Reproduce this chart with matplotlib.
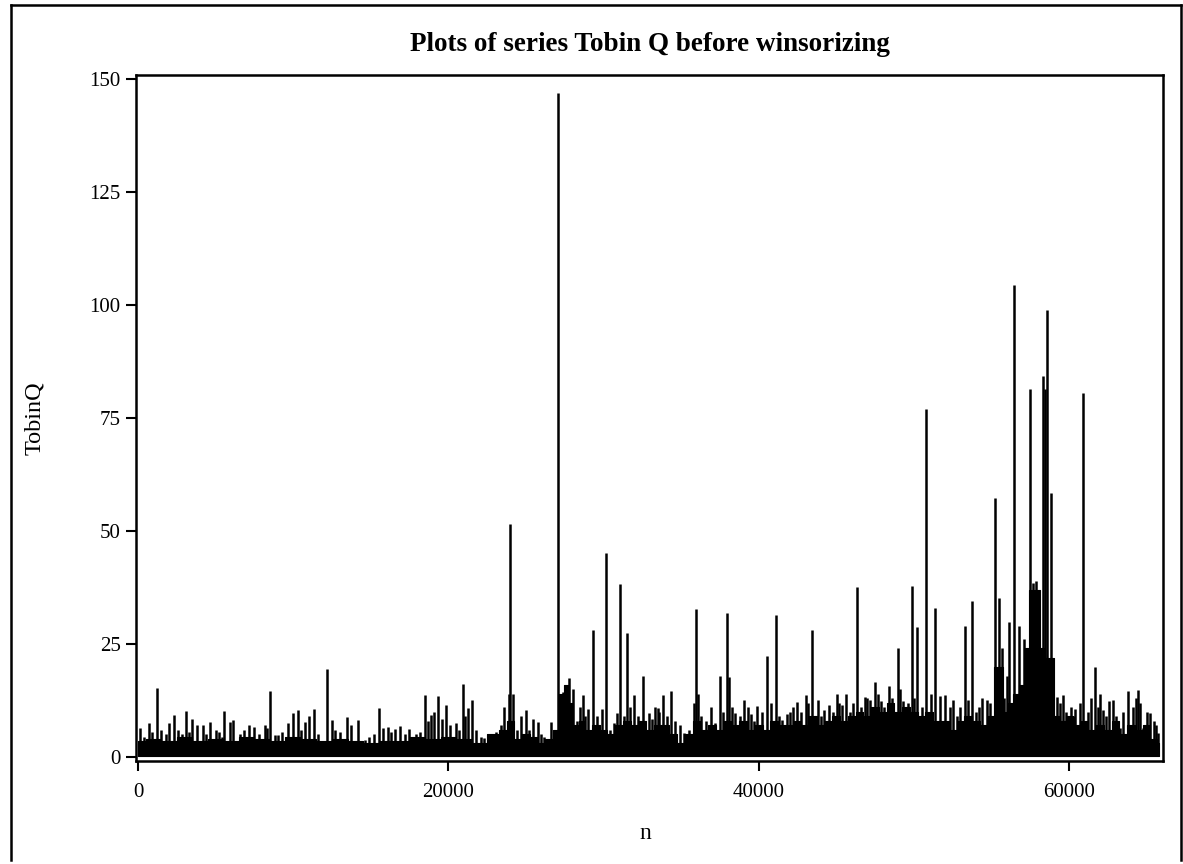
import matplotlib
matplotlib.use("Agg")
import matplotlib.pyplot as plt
from matplotlib.lines import Line2D

# Tobin Q series
# tall isolated spikes (observation number, value)
spike_n = [130, 700, 1220, 2000, 2300, 2800, 3100, 3500, 4180, 4610, 5190, 5570,
           5920, 6150, 6560, 7130, 7440, 8170, 8490, 9000, 9690, 10010, 10330,
           10740, 11360, 12150, 12470, 13440, 14190, 14600, 15500, 16120, 16530,
           16850, 17430, 17930, 18520, 18900, 19360, 19870, 20510, 20940, 21290,
           21520, 22300, 22540, 23100, 23580, 23900, 24000, 24150, 25010, 25440,
           25800, 26180, 26620, 27050, 27400, 27800, 28000, 28300, 28650, 29000,
           29300, 29900, 30160, 30700, 30850, 31080, 31510, 31980, 32560, 32940,
           33480, 33800, 34380, 34900, 35200, 35950, 36100, 36950, 37510, 37940,
           38100, 38500, 39050, 39500, 39910, 40550, 41090, 41500, 41990, 42480,
           43020, 43450, 43800, 44190, 44500, 45050, 45350, 45650, 46340, 46880,
           47150, 47480, 47900, 48380, 48950, 49300, 49880, 50200, 50800, 51380,
           52020, 52500, 53300, 53730, 54400, 54700, 55240, 55510, 55650, 56150,
           56450, 56800, 57300, 57490, 57650, 57900, 58300, 58450, 58600, 58810,
           59200, 59630, 60100, 60400, 60910, 61660, 62200, 62590, 62850, 63300,
           63800, 64450, 64800, 65200, 65450, 65740]
spike_q = [6.4, 7.5, 15.2, 7.5, 9.3, 5.0, 10.2, 8.5, 7.1, 7.8, 5.6, 10.2,
           7.8, 8.1, 5.0, 7.1, 6.6, 7.1, 14.7, 4.9, 7.6, 9.7, 10.4,
           7.8, 10.6, 19.4, 8.1, 8.8, 8.1, 3.8, 10.9, 6.6, 6.2,
           6.8, 6.2, 5.0, 13.7, 9.3, 13.5, 11.5, 7.6, 16.1, 10.8,
           12.5, 4.2, 4.4, 5.5, 11.1, 14.0, 51.6, 14.0, 10.3, 8.5,
           7.8, 4.5, 7.8, 147.0, 14.4, 17.5, 15.0, 8.0, 13.6, 10.7,
           28.2, 10.7, 45.1, 7.5, 9.8, 38.3, 27.5, 13.6, 18.0, 9.8,
           10.9, 13.8, 14.6, 7.0, 5.3, 32.8, 14.0, 11.1, 18.0, 31.9,
           17.6, 9.8, 12.7, 9.4, 11.2, 22.3, 31.5, 8.2, 10.0, 12.2,
           13.8, 28.2, 12.6, 10.4, 11.6, 13.9, 11.6, 13.9, 37.5, 13.3,
           12.6, 16.6, 12.3, 15.8, 24.0, 12.3, 37.9, 28.8, 77.1, 32.9,
           13.6, 12.6, 29.0, 34.6, 13.0, 12.6, 57.4, 35.2, 24.0, 29.9,
           104.4, 29.0, 22.0, 81.5, 38.6, 39.0, 84.4, 81.4, 99.0, 58.5,
           13.3, 13.6, 11.0, 10.6, 80.5, 19.8, 10.3, 12.3, 12.6, 6.5,
           14.5, 14.8, 6.5, 9.8, 8.0, 5.4]

# smaller spikes sitting just above the dense band
minor_n = [400, 900, 1500, 1800, 2600, 3300, 3800, 4400, 5000, 5400, 6800, 7800,
           8300, 8800, 9300, 10500, 11000, 11600, 12700, 13000, 13700, 14900,
           15200, 15800, 16300, 17200, 17700, 18200, 18700, 19100, 19600, 20100,
           20700, 21100, 21800, 22100, 22800, 23400, 24400, 24700, 25200, 26000,
           26400, 27200, 27500, 28500, 28800, 29600, 30400, 31300, 31700, 32200,
           33100, 33300, 33600, 34100, 34600, 35500, 35800, 36300, 36600, 37200,
           37700, 38300, 38800, 39300, 39700, 40200, 40800, 41300, 41800, 42200,
           42700, 43200, 44000, 44800, 45200, 45900, 46100, 46600, 47000, 47700,
           48100, 48600, 49100, 49600, 50000, 50500, 51100, 51700, 52300, 52800,
           53000, 53500, 54000, 54200, 54900, 55800, 56000, 56600, 57100, 59400,
           59800, 60300, 60700, 61200, 61400, 61900, 62000, 62400, 63000, 63500,
           64100, 64300, 64600, 65000, 65600]
minor_q = [4.5, 5.5, 6.0, 5.0, 6.0, 5.5, 7.0, 5.0, 6.0, 4.5, 6.0, 5.0,
           6.5, 4.8, 5.5, 6.0, 9.0, 5.0, 6.0, 5.5, 7.0, 4.5,
           5.0, 6.5, 5.5, 5.0, 4.5, 5.5, 8.0, 10.0, 8.5, 7.0,
           6.0, 9.0, 6.0, 4.5, 5.0, 7.0, 6.0, 9.0, 6.0, 5.0,
           4.0, 10.0, 15.0, 11.0, 9.0, 9.0, 6.0, 9.0, 11.0, 9.0,
           8.5, 11.0, 10.0, 9.0, 8.0, 6.0, 12.0, 9.0, 8.0, 7.5,
           10.0, 11.0, 9.0, 11.0, 8.0, 10.0, 12.0, 9.0, 9.5, 11.0,
           10.0, 12.0, 9.0, 10.0, 12.0, 10.0, 12.0, 11.0, 13.0, 14.0,
           11.0, 13.0, 15.0, 12.0, 13.0, 11.0, 14.0, 13.5, 11.0, 9.0,
           11.0, 12.5, 10.0, 11.0, 12.0, 13.0, 18.0, 14.0, 26.0, 12.0,
           10.0, 9.0, 12.0, 10.0, 13.0, 11.0, 14.0, 9.0, 9.0, 10.0,
           11.0, 13.0, 12.0, 10.0, 7.0]

# upper edge of the dense black band of ordinary observations
band_n = [0, 1000, 2000, 3000, 4000, 5000, 6000, 7000, 8000, 9000, 10000, 11000,
          12000, 13000, 14000, 15000, 16000, 17000, 18000, 19000, 20000, 21000,
          22000, 23000, 23500, 24000, 24500, 25000, 25500, 26000, 26500, 27000,
          27300, 27600, 27900, 28200, 28600, 29000, 29500, 30000, 30500, 31000,
          31500, 32000, 32500, 33000, 33500, 34000, 34500, 35000, 35500, 36000,
          36500, 37000, 37500, 38000, 38500, 39000, 39500, 40000, 40500, 41000,
          41500, 42000, 42500, 43000, 43500, 44000, 44500, 45000, 45500, 46000,
          46500, 47000, 47500, 48000, 48500, 49000, 49500, 50000, 50500, 51000,
          51500, 52000, 52500, 53000, 53500, 54000, 54500, 55000, 55300, 55600,
          55900, 56200, 56600, 57000, 57300, 57600, 58000, 58300, 58600, 58900,
          59200, 59600, 60000, 60500, 61000, 61500, 62000, 62500, 63000, 63500,
          64000, 64500, 65000, 65500, 65800]
band_q = [3.5, 4.0, 3.5, 4.5, 3.5, 4.0, 3.5, 4.5, 4.0, 3.5, 4.5, 4.0,
          3.5, 4.0, 3.5, 3.0, 3.5, 3.5, 4.5, 4.0, 4.5, 4.0,
          3.0, 5.0, 6.0, 8.0, 4.0, 5.0, 4.5, 3.0, 4.0, 6.0,
          14.0, 16.0, 12.0, 7.0, 8.0, 6.0, 7.0, 6.0, 5.0, 7.0,
          8.0, 7.0, 8.0, 6.0, 7.0, 7.0, 5.0, 3.0, 5.0, 8.0,
          6.0, 7.0, 6.0, 8.0, 7.0, 8.0, 6.0, 7.0, 6.0, 8.0,
          7.0, 7.0, 8.0, 7.0, 9.0, 7.0, 8.0, 9.0, 8.0, 9.0,
          10.0, 9.0, 11.0, 10.0, 12.0, 10.0, 11.0, 10.0, 9.0, 10.0,
          8.0, 8.0, 6.0, 8.0, 9.0, 8.0, 7.0, 9.0, 20.0, 20.0,
          10.0, 12.0, 14.0, 16.0, 24.0, 37.0, 37.0, 24.0, 22.0, 22.0,
          9.0, 8.0, 9.0, 7.0, 8.0, 6.0, 7.0, 6.0, 8.0, 5.0,
          7.0, 6.0, 7.0, 4.0, 3.0]
band_floor = 0.3

y_ticks = [0, 25, 50, 75, 100, 125, 150]
x_ticks = [0, 20000, 40000, 60000]

plt.rcParams['font.family'] = ['Liberation Serif', 'DejaVu Serif']

fig = plt.figure(figsize=(11.83, 8.64), dpi=100)
ax = fig.add_axes([0.115, 0.1192, 0.868, 0.794])

ax.fill_between(band_n, band_floor, band_q, step='mid', color='black', linewidth=0.8)
ax.vlines(minor_n, band_floor, minor_q, color='black', linewidth=1.8)
ax.vlines(spike_n, band_floor, spike_q, color='black', linewidth=1.8)

ax.set_xlim(-130, 66050)
ax.set_ylim(-0.9, 150.9)
ax.set_xticks(x_ticks)
ax.set_yticks(y_ticks)
ax.set_xticklabels([str(v) for v in x_ticks])
ax.set_yticklabels([str(v) for v in y_ticks])
ax.tick_params(direction='out', length=7, width=1.5, labelsize=15, colors='black')
ax.tick_params(axis='x', pad=9)
ax.tick_params(axis='y', pad=4)
for s in ax.spines.values():
    s.set_linewidth(1.8)

ax.set_title('Plots of series Tobin Q before winsorizing', fontsize=19.5,
             fontweight='bold', pad=17)
ax.set_ylabel('TobinQ', fontsize=17.5)
ax.yaxis.set_label_coords(-0.089, 0.5)
ax.set_xlabel('n', fontsize=17)
ax.xaxis.set_label_coords(0.496, -0.09)

# outer frame of the scanned figure
W, H = 1183, 864
fig.add_artist(Line2D([11 / W, 11 / W], [0.005, 1 - 5 / H], color='black', lw=1.8))
fig.add_artist(Line2D([11 / W, 1181 / W], [1 - 5 / H, 1 - 5 / H], color='black', lw=1.8))
fig.add_artist(Line2D([1181 / W, 1181 / W], [0.005, 1 - 5 / H], color='black', lw=1.8))

fig.savefig('out.png', dpi=100)
